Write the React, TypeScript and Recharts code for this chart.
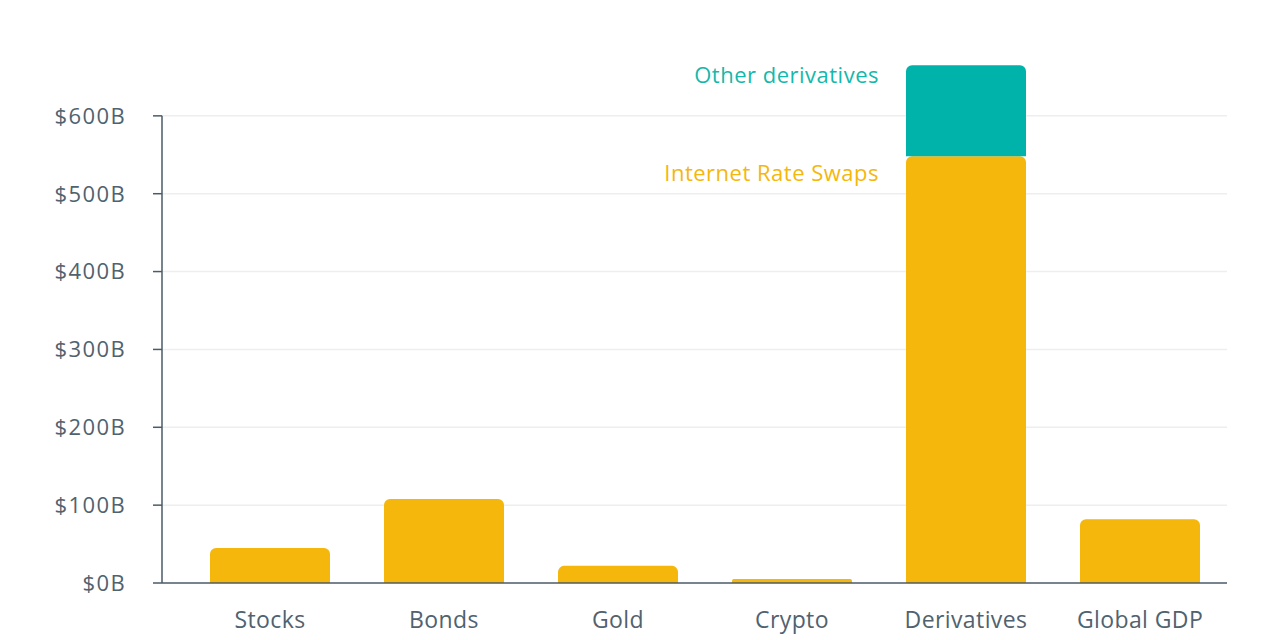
import { BarChart, Bar, XAxis, YAxis, CartesianGrid, ReferenceArea, LabelList } from 'recharts';

// market size in $B
const categories = ['Stocks', 'Bonds', 'Gold', 'Crypto', 'Derivatives', 'Global GDP'];
const baseValues = [45, 108, 22, 5, 548, 82];
const otherValues = [null, null, null, null, 117, null];
const yTicks = [0, 100, 200, 300, 400, 500, 600];

const segmentLabels = { base: 'Internet Rate Swaps', other: 'Other derivatives' };
const labelIndex = categories.indexOf('Derivatives');

const data = categories.map((name, i) => ({ name, base: baseValues[i], other: otherValues[i] }));

const YELLOW = '#f5b70b';
const TEAL = '#00b3aa';
const SLATE = '#51626f';
const AXIS = '#4b5b67';
const FONT = '"Open Sans", sans-serif';
const X_PAD = 21;

const makeLabel = (text: string, color: string, dy: number, onlyIndex: boolean) => (props: any) => {
  const { x, y, index, value } = props;
  if (onlyIndex ? index !== labelIndex : !value) return null;
  return (
    <text x={x - 27} y={y + dy} textAnchor="end" dominantBaseline="central" fill={color} fontSize={22} letterSpacing={0.5} fontFamily={FONT}>
      {text}
    </text>
  );
};

// left axis line only up to the last tick
const AxisLine = (props: any) => {
  const { x, y, height } = props;
  return <line x1={x - X_PAD} x2={x - X_PAD} y1={y} y2={y + height} stroke={AXIS} strokeWidth={1.5} />;
};

export default function App() {
  return (
    <div style={{ position: 'absolute', left: 0, top: 0 }}>
      <BarChart width={1280} height={640} data={data} margin={{ top: 38, right: 53, left: 0, bottom: 0 }}>
        <CartesianGrid vertical={false} horizontalValues={yTicks.slice(1)} stroke="#eeeeee" strokeWidth={1.5} />
        <XAxis
          dataKey="name"
          height={57}
          padding={{ left: X_PAD, right: 0 }}
          tickLine={false}
          axisLine={{ stroke: AXIS, strokeWidth: 1.5 }}
          tickMargin={23}
          tick={{ fontSize: 23, fill: SLATE, fontFamily: FONT, letterSpacing: 0.4 }}
        />
        <YAxis
          width={162}
          domain={[0, 700]}
          ticks={yTicks}
          axisLine={false}
          tickSize={9}
          tickLine={{ stroke: AXIS, strokeWidth: 1.5 }}
          tickMargin={27}
          tickFormatter={(v) => `$${v}B`}
          tick={{ fontSize: 22, fill: SLATE, fontFamily: FONT, letterSpacing: 1.4 }}
        />
        <ReferenceArea y1={0} y2={600} shape={AxisLine} />
        <Bar dataKey="base" stackId="a" fill={YELLOW} barSize={120} radius={[6, 6, 0, 0]} isAnimationActive={false}>
          <LabelList dataKey="base" content={makeLabel(segmentLabels.base, YELLOW, 16, true)} />
        </Bar>
        <Bar dataKey="other" stackId="a" fill={TEAL} barSize={120} radius={[6, 6, 0, 0]} isAnimationActive={false}>
          <LabelList dataKey="other" content={makeLabel(segmentLabels.other, '#14b8ab', 9, false)} />
        </Bar>
      </BarChart>
    </div>
  );
}
